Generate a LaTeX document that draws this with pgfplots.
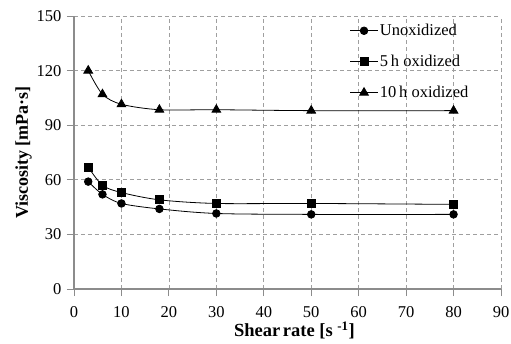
\documentclass[border=0pt]{standalone}
\usepackage{fontspec}
\setmainfont{Liberation Serif}
\usepackage{pgfplots}
\pgfplotsset{compat=1.18}
\begin{document}
\begin{tikzpicture}
\useasboundingbox (-74pt,-54pt) rectangle (437pt,289pt);
\begin{axis}[
  at={(0,0)}, anchor=south west,
  scale only axis,
  width=427pt, height=273pt,
  xmin=0, xmax=90, ymin=0, ymax=150,
  xtick={0,10,...,90}, ytick={0,30,...,150},
  axis x line*=bottom, axis y line*=left,
  axis line style={draw=gray!90, line width=1.5pt, -},
  tick style={draw=gray!90, line width=0.8pt},
  tick align=outside, major tick length=7pt,
  grid=major,
  major grid style={dash pattern=on 4pt off 3pt, gray!75, line width=0.7pt},
  /pgf/number format/assume math mode=true,
  tick label style={font=\fontsize{16.5}{19}\selectfont},
  xticklabel style={inner ysep=0pt, yshift=-10pt},
  yticklabel style={xshift=-2pt},
  xlabel={\textbf{Shear\kern-2pt\ rate [s \textsuperscript{-1}]}},
  ylabel={\textbf{Viscosity [mPa·s]}},
  xlabel style={font=\fontsize{18.5}{21}\selectfont, inner ysep=0pt, yshift=-4.5pt, xshift=7pt},
  ylabel style={font=\fontsize{18}{20}\selectfont, yshift=-2pt},
  legend style={draw=none, fill=none, at={(0.638,0.985)}, anchor=north west,
    font=\fontsize{16.5}{19}\selectfont, row sep=14pt,
    nodes={inner xsep=1.5pt}},
  legend cell align=left,
  legend image code/.code={
    \draw[mark repeat=2,mark phase=2,#1] plot coordinates {(0pt,0pt) (14pt,0pt) (28pt,0pt)};},
  every axis plot/.append style={black, line width=0.8pt, smooth, tension=0.5},
  clip=false,
]
\addplot[mark=*, mark size=3.8pt, mark options={fill=black, solid}] coordinates {
(3,59) (6,52) (10,47) (18,44) (30,41.5) (50,41) (80,41)};
\addlegendentry{Unoxidized}
\addplot[mark=square*, mark size=4pt, mark options={fill=black, solid}] coordinates {
(3,67) (6,57) (10,53) (18,49) (30,47) (50,47) (80,46.5)};
\addlegendentry{5\,h oxidized}
\addplot[mark=triangle*, mark size=5pt, mark options={fill=black, solid}] coordinates {
(3,120) (6,107) (10,101.5) (18,98.5) (30,98.5) (50,98) (80,98)};
\addlegendentry{10\,h oxidized}
\end{axis}
\end{tikzpicture}
\end{document}
